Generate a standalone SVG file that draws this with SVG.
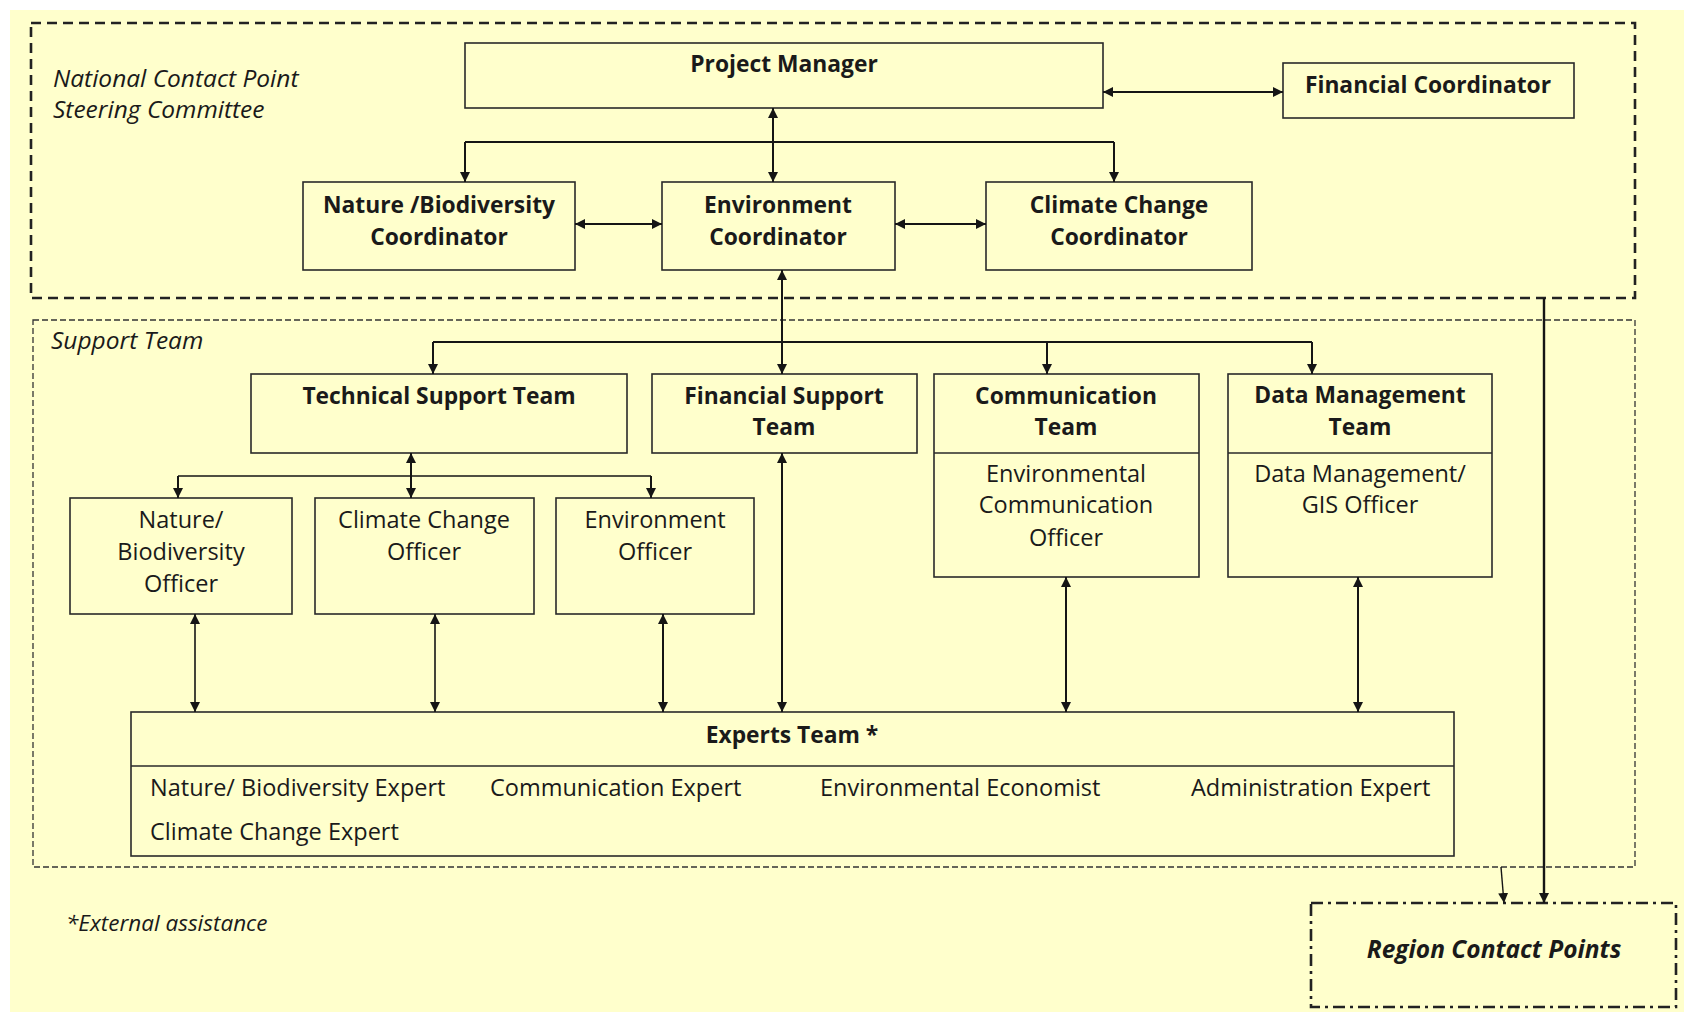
<svg xmlns="http://www.w3.org/2000/svg" width="1684" height="1012" viewBox="0 0 1684 1012">
<defs>
<marker id="ah" viewBox="0 0 10 10" refX="10" refY="5" markerWidth="10" markerHeight="10" markerUnits="userSpaceOnUse" orient="auto-start-reverse"><path d="M0,0 L10,5 L0,10 z" fill="#151515"/></marker>
<style>
.box{fill:none;stroke:#2a2a2a;stroke-width:1.6}
.t{font-family:"Open Sans","Liberation Sans",sans-serif;font-size:23.5px;fill:#1a1a1a;text-anchor:middle}
.b{font-weight:bold;font-size:22.8px}
.l{text-anchor:start}
.i{font-style:italic}
.lab{font-size:24.5px}
.c{fill:none;stroke:#151515;stroke-width:2}
.ca{fill:none;stroke:#151515;stroke-width:2;marker-end:url(#ah)}
.cb{fill:none;stroke:#151515;stroke-width:2;marker-start:url(#ah);marker-end:url(#ah)}
</style>
</defs>
<rect x="10" y="10" width="1674" height="1002" fill="#FFFFCC"/>

<g id="steering-committee">
<rect x="31" y="23" width="1604" height="275" fill="none" stroke="#222" stroke-width="2.6" stroke-dasharray="10 6"/>
<text class="t i l lab" x="53" y="87">National Contact Point</text>
<text class="t i l lab" x="53" y="118">Steering Committee</text>
</g>
<g id="support-team">
<rect x="33" y="320" width="1602" height="547" fill="none" stroke="#333" stroke-width="1.3" stroke-dasharray="6 3"/>
<text class="t i l lab" x="51" y="349">Support Team</text>
</g>

<g id="project-manager"><rect class="box" x="465" y="43" width="638" height="65"/><text class="t b" x="784" y="72">Project Manager</text></g>
<g id="financial-coordinator"><rect class="box" x="1283" y="63" width="291" height="55"/><text class="t b" x="1428" y="93">Financial Coordinator</text></g>
<g id="nature-coordinator"><rect class="box" x="303" y="182" width="272" height="88"/><text class="t b" x="439" y="213">Nature /Biodiversity</text><text class="t b" x="439" y="245">Coordinator</text></g>
<g id="environment-coordinator"><rect class="box" x="662" y="182" width="233" height="88"/><text class="t b" x="778" y="213">Environment</text><text class="t b" x="778" y="245">Coordinator</text></g>
<g id="climate-coordinator"><rect class="box" x="986" y="182" width="266" height="88"/><text class="t b" x="1119" y="213">Climate Change</text><text class="t b" x="1119" y="245">Coordinator</text></g>

<g id="technical-support"><rect class="box" x="251" y="374" width="376" height="79"/><text class="t b" x="439" y="404">Technical Support Team</text></g>
<g id="financial-support"><rect class="box" x="652" y="374" width="265" height="79"/><text class="t b" x="784" y="404">Financial Support</text><text class="t b" x="784" y="435">Team</text></g>
<g id="communication-team"><rect class="box" x="934" y="374" width="265" height="203"/><line class="box" x1="934" y1="453" x2="1199" y2="453"/><text class="t b" x="1066" y="404">Communication</text><text class="t b" x="1066" y="435">Team</text><text class="t" x="1066" y="482">Environmental</text><text class="t" x="1066" y="513">Communication</text><text class="t" x="1066" y="546">Officer</text></g>
<g id="data-management-team"><rect class="box" x="1228" y="374" width="264" height="203"/><line class="box" x1="1228" y1="453" x2="1492" y2="453"/><text class="t b" x="1360" y="403">Data Management</text><text class="t b" x="1360" y="435">Team</text><text class="t" x="1360" y="482">Data Management/</text><text class="t" x="1360" y="513">GIS Officer</text></g>

<g id="nature-officer"><rect class="box" x="70" y="498" width="222" height="116"/><text class="t" x="181" y="528">Nature/</text><text class="t" x="181" y="560">Biodiversity</text><text class="t" x="181" y="592">Officer</text></g>
<g id="climate-officer"><rect class="box" x="315" y="498" width="219" height="116"/><text class="t" x="424" y="528">Climate Change</text><text class="t" x="424" y="560">Officer</text></g>
<g id="environment-officer"><rect class="box" x="556" y="498" width="198" height="116"/><text class="t" x="655" y="528">Environment</text><text class="t" x="655" y="560">Officer</text></g>

<g id="experts-team"><rect class="box" x="131" y="712" width="1323" height="144"/><line class="box" x1="131" y1="766" x2="1454" y2="766"/>
<text class="t b" x="792" y="743">Experts Team *</text>
<text class="t l" x="150" y="796">Nature/ Biodiversity Expert</text>
<text class="t l" x="490" y="796">Communication Expert</text>
<text class="t l" x="820" y="796">Environmental Economist</text>
<text class="t l" x="1191" y="796">Administration Expert</text>
<text class="t l" x="150" y="840">Climate Change Expert</text>
</g>

<g id="region-contact-points"><rect x="1311" y="903" width="365" height="104" fill="none" stroke="#222" stroke-width="2.6" stroke-dasharray="12 5 3 5"/><text class="t b i" style="font-size:24.5px" x="1494" y="958">Region Contact Points</text></g>

<text class="t i l" style="font-size:22.5px" x="66" y="931">*External assistance</text>

<g id="connectors">
<path class="cb" d="M1103,92 L1283,92"/>
<path class="cb" d="M773,108 L773,182"/>
<path class="c" d="M465,142 L1114,142"/>
<path class="ca" d="M465,142 L465,182"/>
<path class="ca" d="M1114,142 L1114,182"/>
<path class="cb" d="M575,224 L662,224"/>
<path class="cb" d="M895,224 L986,224"/>
<path class="cb" d="M782,270 L782,374"/>
<path class="c" d="M433,342 L1312,342"/>
<path class="ca" d="M433,342 L433,374"/>
<path class="ca" d="M1047,342 L1047,374"/>
<path class="ca" d="M1312,342 L1312,374"/>
<path class="cb" d="M411,453 L411,498"/>
<path class="c" d="M178,476 L651,476" style="stroke-width:1.6"/>
<path class="ca" d="M178,476 L178,498"/>
<path class="ca" d="M651,476 L651,498"/>
<path class="cb" d="M195,614 L195,712" style="stroke-width:1.6"/>
<path class="cb" d="M435,614 L435,712" style="stroke-width:1.6"/>
<path class="cb" d="M663,614 L663,712"/>
<path class="cb" d="M782,453 L782,712"/>
<path class="cb" d="M1066,577 L1066,712"/>
<path class="cb" d="M1358,577 L1358,712"/>
<path class="ca" d="M1544,298 L1544,903" style="stroke-width:2.4"/>
<path class="ca" d="M1501,867 L1504,903" style="stroke-width:1.4"/>
</g>
</svg>
